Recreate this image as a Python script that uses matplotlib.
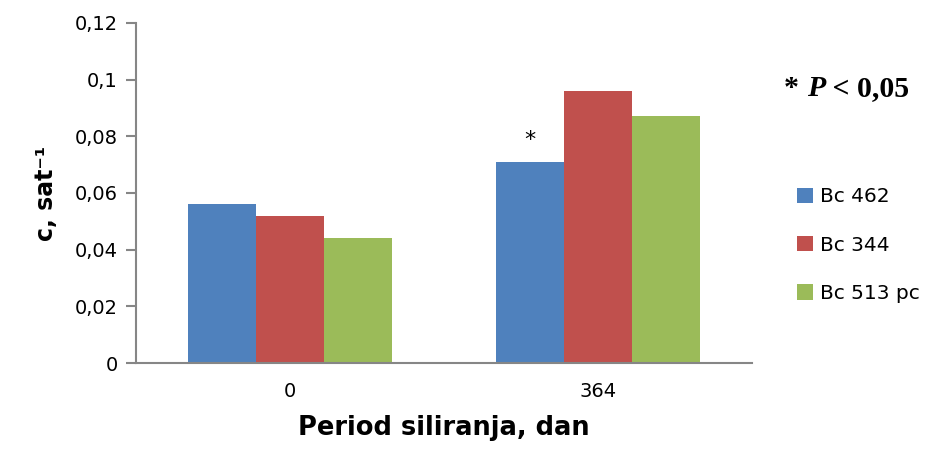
import numpy as np
import matplotlib
matplotlib.use('Agg')
import matplotlib.pyplot as plt
from matplotlib.ticker import FuncFormatter

categories = ['0', '364']
series = ['Bc 462', 'Bc 344', 'Bc 513 pc']
values = {
    'Bc 462': [0.056, 0.071],
    'Bc 344': [0.052, 0.096],
    'Bc 513 pc': [0.044, 0.087],
}
colors = ['#4F81BD', '#C0504D', '#9BBB59']
yticks = [0, 0.02, 0.04, 0.06, 0.08, 0.1, 0.12]

plt.rcParams['font.family'] = ['DejaVu Sans']

fig = plt.figure(figsize=(9.25, 4.66), dpi=100)
ax = fig.add_axes([0.147, 0.221, 0.666, 0.730])

x = np.arange(len(categories))
w = 0.221
for i, (name, c) in enumerate(zip(series, colors)):
    ax.bar(x + (i - 1) * w, values[name], width=w, color=c, label=name)

# significance star above Bc 462 at 364 days
ax.text(x[1] - w, values['Bc 462'][1] + 0.0075, '*', ha='center', va='center',
        fontsize=16, color='black')

ax.set_xlim(-0.5, 1.5)
ax.set_ylim(0, 0.12)
ax.set_yticks(yticks)
ax.yaxis.set_major_formatter(FuncFormatter(lambda v, p: ('%g' % v).replace('.', ',')))
ax.set_xticks(x)
ax.set_xticklabels(categories)

for s in ['top', 'right']:
    ax.spines[s].set_visible(False)
for s in ['left', 'bottom']:
    ax.spines[s].set_color('#868686')
    ax.spines[s].set_linewidth(1.5)
ax.tick_params(axis='y', length=7, width=1.5, color='#868686', labelsize=14, pad=6)
ax.tick_params(axis='x', length=0, labelsize=14, pad=14)

ax.set_ylabel('c, sat\u207b\u00b9', fontsize=17, fontweight='bold', labelpad=12)
ax.set_xlabel('Period siliranja, dan', fontsize=18.5, fontweight='bold', labelpad=10)

# "* P < 0,05" note, built from three pieces
serif = 'Liberation Serif'
t1 = fig.text(0.848, 0.81, '* ', fontsize=21.5, fontweight='bold', family=serif,
              va='center', ha='left')
t2 = ax.annotate('P', xy=(1, 0.5), xycoords=t1, va='center', ha='left',
                 fontsize=21.5, fontweight='bold', fontstyle='italic', family=serif,
                 annotation_clip=False)
t3 = ax.annotate(' < 0,05', xy=(1, 0.5), xycoords=t2, va='center', ha='left',
                 fontsize=21.5, fontweight='bold', family=serif,
                 annotation_clip=False)

fig.legend(loc='center left', bbox_to_anchor=(0.862, 0.474), frameon=False,
           fontsize=14.5, handlelength=0.8, handleheight=0.8, handletextpad=0.3,
           labelspacing=1.45, borderpad=0, borderaxespad=0)

fig.savefig('out.png', dpi=100)
